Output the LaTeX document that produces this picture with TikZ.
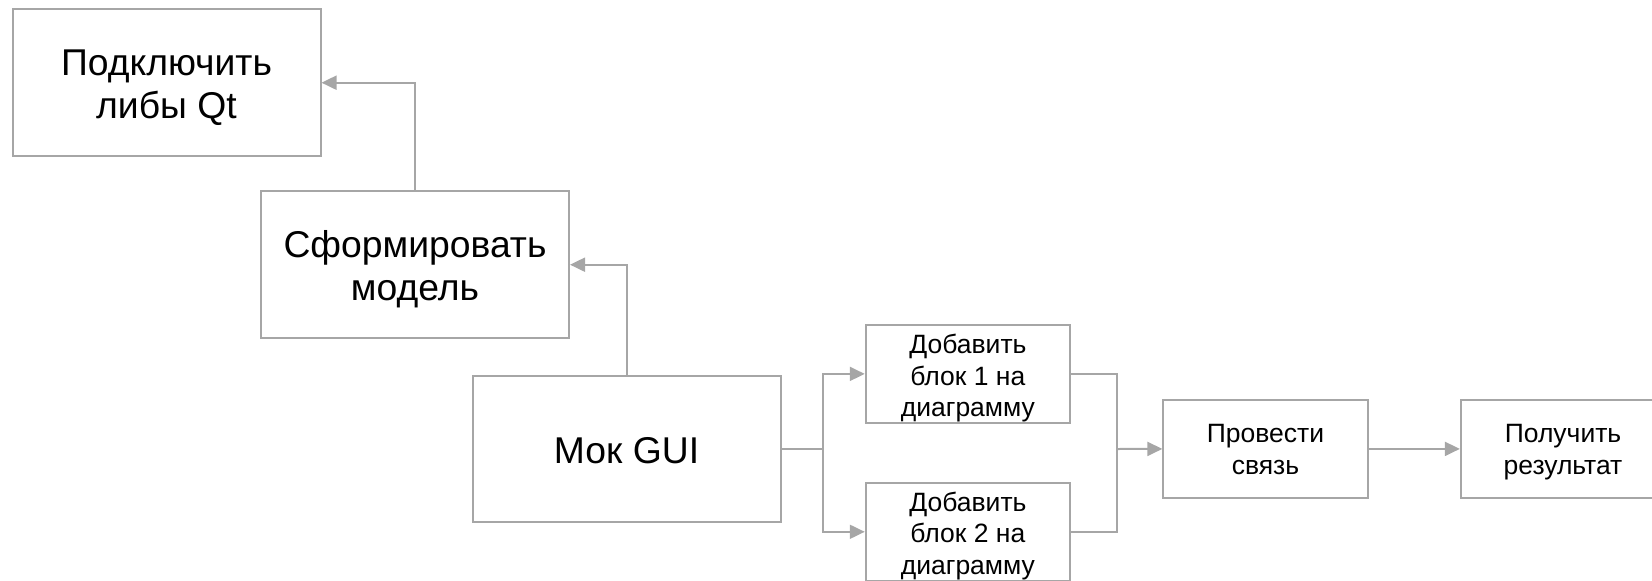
\documentclass[tikz,border=0pt]{standalone}
\usepackage{fontspec}
\setmainfont{Liberation Sans}
\usetikzlibrary{arrows.meta}
\definecolor{edge}{HTML}{A6A6A6}
\tikzset{
  box/.style={draw=edge, line width=2pt, fill=white, align=center, inner sep=0pt, text=black},
  bigbox/.style={box, minimum width=308pt, minimum height=146.5pt, font=\fontsize{37.3}{43.3}\selectfont},
  bigone/.style={bigbox, text height=33.8pt, text depth=5.8pt},
  bigtwo/.style={bigbox, text height=77.1pt, text depth=5.8pt},
  smallbox/.style={box, minimum width=204.3pt, minimum height=97.5pt, font=\fontsize{26.5}{31.65}\selectfont},
  smalltwo/.style={smallbox, text height=55.6pt, text depth=4.8pt},
  smallthree/.style={smallbox, text height=87.3pt, text depth=1.8pt},
  conn/.style={draw=edge, line width=2pt},
  arr/.style={conn, -{Triangle[length=15pt,width=14pt]}},
}
\begin{document}
\begin{tikzpicture}[x=1pt,y=-1pt]
\useasboundingbox (0,0) rectangle (1652,581);
\clip (0,0) rectangle (1652,581);
\node[bigtwo] (a) at (166.5,82.7) {Подключить\\либы Qt};
\node[bigtwo] (b) at (415,264.7) {Сформировать\\модель};
\node[bigone] (c) at (626.5,449) {Мок GUI};
\node[smallthree] (d) at (967.9,373.9) {Добавить\\блок 1 на\\диаграмму};
\node[smallthree] (e) at (967.9,531.8) {Добавить\\блок 2 на\\диаграмму};
\node[smalltwo] (f) at (1265.5,448.9) {Провести\\связь};
\node[smalltwo] (g) at (1563,448.9) {Получить\\результат};
\coordinate (split) at (823.3,449);
\coordinate (merge) at (1116.7,449);
\draw[arr] (c.north) |- (b.east);
\draw[arr] (b.north) |- (a.east);
\draw[conn] (c.east) -- (split);
\draw[arr] (split) |- (d.west);
\draw[arr] (split) |- (e.west);
\draw[conn] (d.east) -| (merge);
\draw[conn] (e.east) -| (merge);
\draw[arr] (merge) -- (f.west);
\draw[arr] (f.east) -- (g.west);
\end{tikzpicture}
\end{document}
